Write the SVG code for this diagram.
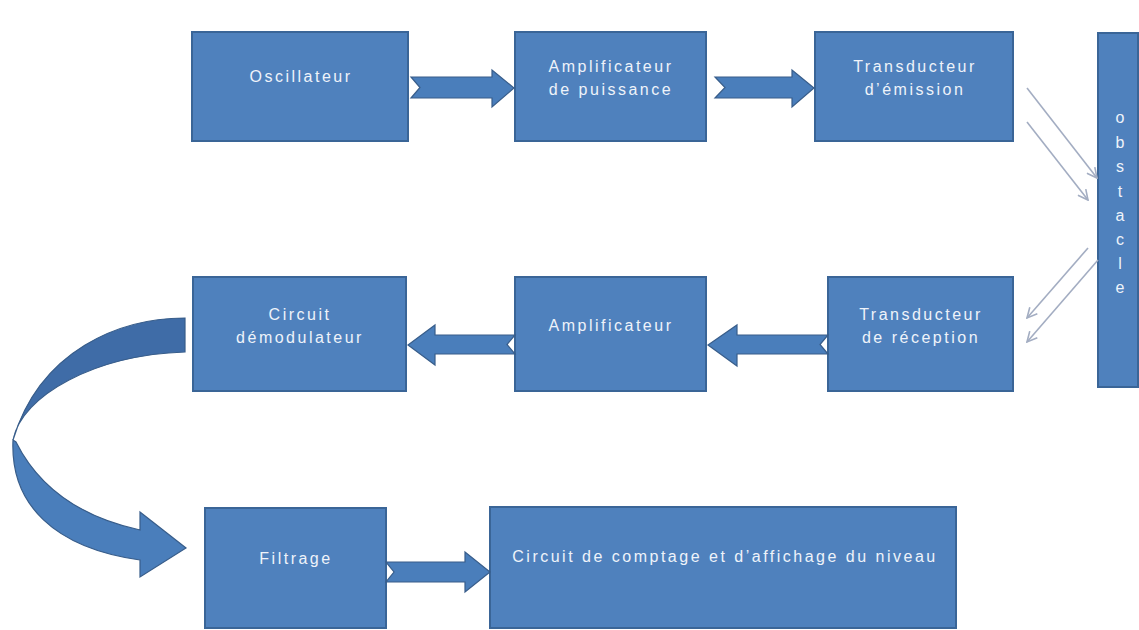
<svg xmlns="http://www.w3.org/2000/svg" width="1139" height="630" viewBox="0 0 1139 630">
  <style>
    .box { fill: #4f81bd; stroke: #3a6597; stroke-width: 2; }
    .lbl { font-family: "Liberation Sans", Arial, sans-serif; font-size: 16px; fill: #eef3fa; text-anchor: middle; letter-spacing: 2.5px; }
    .blk { fill: #4a7ebb; stroke: #385d8a; stroke-width: 1.2; stroke-linejoin: miter; }
    .ray { stroke: #a3adc2; stroke-width: 1.6; fill: none; marker-end: url(#open); }
  </style>
  <defs>
    <marker id="open" viewBox="0 0 12 12" refX="11" refY="6" markerWidth="12" markerHeight="12" markerUnits="userSpaceOnUse" orient="auto">
      <polyline points="1,1 11,6 1,11" fill="none" stroke="#a3adc2" stroke-width="1.6"/>
    </marker>
  </defs>
  <rect width="1139" height="630" fill="#ffffff"/>

  <!-- Emission chain -->
  <g id="oscillateur">
    <rect class="box" x="192" y="32" width="216" height="109"/>
    <text class="lbl" x="301" y="82">Oscillateur</text>
  </g>
  <g id="amplificateur-puissance">
    <rect class="box" x="515" y="32" width="191" height="109"/>
    <text class="lbl" x="611" y="72">Amplificateur</text>
    <text class="lbl" x="611" y="95">de puissance</text>
  </g>
  <g id="transducteur-emission">
    <rect class="box" x="815" y="32" width="198" height="109"/>
    <text class="lbl" x="915" y="72">Transducteur</text>
    <text class="lbl" x="915" y="95">d’émission</text>
  </g>

  <!-- Obstacle -->
  <g id="obstacle">
    <rect class="box" x="1098" y="33" width="40" height="354"/>
    <g class="lbl" style="letter-spacing:0">
      <text x="1120" y="123">o</text>
      <text x="1120" y="148">b</text>
      <text x="1120" y="172">s</text>
      <text x="1120" y="197">t</text>
      <text x="1120" y="221">a</text>
      <text x="1120" y="245">c</text>
      <text x="1120" y="269">l</text>
      <text x="1120" y="293">e</text>
    </g>
  </g>

  <!-- Reception chain -->
  <g id="transducteur-reception">
    <rect class="box" x="828" y="277" width="185" height="114"/>
    <text class="lbl" x="921" y="320">Transducteur</text>
    <text class="lbl" x="921" y="343">de réception</text>
  </g>
  <g id="amplificateur">
    <rect class="box" x="515" y="277" width="191" height="114"/>
    <text class="lbl" x="611" y="331">Amplificateur</text>
  </g>
  <g id="circuit-demodulateur">
    <rect class="box" x="193" y="277" width="213" height="114"/>
    <text class="lbl" x="300" y="320">Circuit</text>
    <text class="lbl" x="300" y="343">démodulateur</text>
  </g>

  <!-- Output chain -->
  <g id="filtrage">
    <rect class="box" x="205" y="508" width="181" height="120"/>
    <text class="lbl" x="296" y="564">Filtrage</text>
  </g>
  <g id="comptage-affichage">
    <rect class="box" x="490" y="507" width="466" height="121"/>
    <text class="lbl" x="725" y="562">Circuit de comptage et d’affichage du niveau</text>
  </g>

  <!-- Connectors -->
  <g id="connectors">
    <!-- notched block arrows -->
    <polygon class="blk" points="411,77 492,77 492,70 514,88 492,107 492,98 411,98 420,87.5"/>
    <polygon class="blk" points="715,77 792,77 792,70 814,88 792,107 792,98 715,98 725,87.5"/>
    <polygon class="blk" points="828,335 737,335 737,325 708,345 737,366 737,354 828,354 820,344.5"/>
    <polygon class="blk" points="515,335 435,335 435,325 408,345 435,365 435,354 515,354 507,344.5"/>
    <polygon class="blk" points="386,562 465,562 465,552 490,572 465,592 465,582 386,582 394,572"/>

    <!-- curved ribbon arrow from démodulateur down to filtrage -->
    <path class="blk" style="fill:#3f6ca7" d="M185,318 C120,318 40,350 13,440 C22,395 95,355 185,352 Z"/>
    <path class="blk" d="M13,440 C10,505 55,548 140,560 L140,577 L186,548 L140,512 L140,530 C85,518 40,490 16,442 Z"/>

    <!-- emitted and reflected waves -->
    <line class="ray" x1="1027" y1="88" x2="1097" y2="178"/>
    <line class="ray" x1="1027" y1="122" x2="1088" y2="200"/>
    <line class="ray" x1="1088" y1="248" x2="1027" y2="318"/>
    <line class="ray" x1="1098" y1="260" x2="1027" y2="342"/>
  </g>
</svg>
